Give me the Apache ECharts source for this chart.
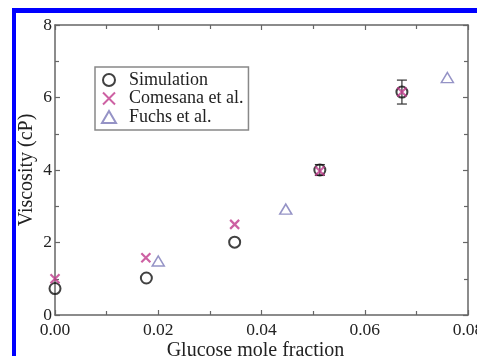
<!DOCTYPE html>
<html><head><meta charset="utf-8">
<script src="https://cdn.jsdelivr.net/npm/echarts@6/dist/echarts.min.js"></script>
<style>html,body{margin:0;padding:0;background:#fff}#c{width:477px;height:356px}</style>
</head><body><div id="c"></div>
<script>
var simX = [0.0, 0.0177, 0.0348, 0.0513, 0.0672];
var simY = [0.73, 1.02, 2.01, 4.0, 6.15];
var simErr = [0, 0, 0, 0.15, 0.33];
var comX = [0.0, 0.0176, 0.0348, 0.0513, 0.0672];
var comY = [1.0, 1.58, 2.5, 3.97, 6.15];
var fucX = [0.0200, 0.0447, 0.0760];
var fucY = [1.49, 2.92, 6.55];
var xTicks = [0, 0.02, 0.04, 0.06, 0.08];
var yTicks = [0, 2, 4, 6, 8];

function pairs(xs, ys){ return xs.map(function(x,i){return [x, ys[i]];}); }
var errData = [];
simX.forEach(function(x,i){ if (simErr[i] > 0) errData.push([x, simY[i]-simErr[i], simY[i]+simErr[i]]); });

var font = 'Liberation Serif';
var axisCol = '#666';
var chart = echarts.init(document.getElementById('c'));
var baseAxis = {
  axisLine:{show:true, onZero:false, lineStyle:{color:axisCol, width:1.5}},
  axisTick:{show:true, inside:true, length:5, lineStyle:{color:axisCol, width:1.2}},
  minorTick:{show:true, splitNumber:2, length:4, lineStyle:{color:axisCol, width:1.2}},
  splitLine:{show:false}
};
chart.setOption({
  animation:false,
  graphic:[
    {type:'rect', shape:{x:12, y:8, width:465, height:5}, style:{fill:'#0000ff'}},
    {type:'rect', shape:{x:12, y:8, width:4, height:348}, style:{fill:'#0000ff'}}
  ],
  grid:{left:55, top:25, right:9, bottom:41, outerBoundsMode:'none', containLabel:false},
  legend:{
    left:95, top:67, orient:'vertical', itemGap:0.5, itemWidth:14, itemHeight:12,
    padding:[4,5,4,6], borderColor:'#888', borderWidth:1.5, borderRadius:0,
    textStyle:{fontFamily:font, fontSize:18, lineHeight:16, color:'#222', padding:[0,0,0,8]},
    data:['Simulation','Comesana et al.','Fuchs et al.']
  },
  xAxis:[
    Object.assign({type:'value', min:0, max:0.08, interval:0.02,
      axisLabel:{fontFamily:font, fontSize:17.5, color:'#222', margin:6,
        formatter:function(v){return v.toFixed(2);}},
      name:'Glucose mole fraction', nameLocation:'middle', nameGap:26, nameMoveOverlap:false,
      nameTextStyle:{fontFamily:font, fontSize:20, color:'#222', padding:[0,12,0,0], verticalAlign:'top'}}, baseAxis),
    Object.assign({type:'value', min:0, max:0.08, interval:0.02, position:'top',
      axisLabel:{show:false}}, baseAxis)
  ],
  yAxis:[
    Object.assign({type:'value', min:0, max:8, interval:2,
      axisLabel:{fontFamily:font, fontSize:17.5, color:'#222', margin:3},
      name:'Viscosity (cP)', nameLocation:'middle', nameGap:18, nameMoveOverlap:false,
      nameTextStyle:{fontFamily:font, fontSize:20, color:'#222'}}, baseAxis),
    Object.assign({type:'value', min:0, max:8, interval:2, position:'right',
      axisLabel:{show:false}}, baseAxis)
  ],
  series:[
    {type:'custom', name:'err', xAxisIndex:0, yAxisIndex:0, z:1,
      renderItem:function(params, api){
        var x = api.value(0);
        var lo = api.coord([x, api.value(1)]);
        var hi = api.coord([x, api.value(2)]);
        var w = 5;
        return {type:'group', children:[
          {type:'line', shape:{x1:lo[0], y1:lo[1], x2:hi[0], y2:hi[1]}, style:{stroke:'#333', lineWidth:1.2}},
          {type:'line', shape:{x1:lo[0]-w, y1:lo[1], x2:lo[0]+w, y2:lo[1]}, style:{stroke:'#333', lineWidth:1.2}},
          {type:'line', shape:{x1:hi[0]-w, y1:hi[1], x2:hi[0]+w, y2:hi[1]}, style:{stroke:'#333', lineWidth:1.2}}
        ]};
      },
      encode:{x:0, y:[1,2]}, data:errData},
    {type:'scatter', name:'Simulation', data:pairs(simX, simY), symbol:'circle', symbolSize:11, z:3,
      itemStyle:{color:'rgba(0,0,0,0)', borderColor:'#111', borderWidth:2}},
    {type:'scatter', name:'Comesana et al.', data:pairs(comX, comY), symbol:'path://M0,0L10,10M10,0L0,10', symbolSize:9, z:4,
      itemStyle:{color:'rgba(0,0,0,0)', borderColor:'#c03a8c', borderWidth:2.2}},
    {type:'scatter', name:'Fuchs et al.', data:pairs(fucX, fucY), symbol:'triangle', symbolSize:[12,10], z:4,
      itemStyle:{color:'rgba(0,0,0,0)', borderColor:'#7a78b8', borderWidth:1.5}}
  ]
});
</script></body></html>
